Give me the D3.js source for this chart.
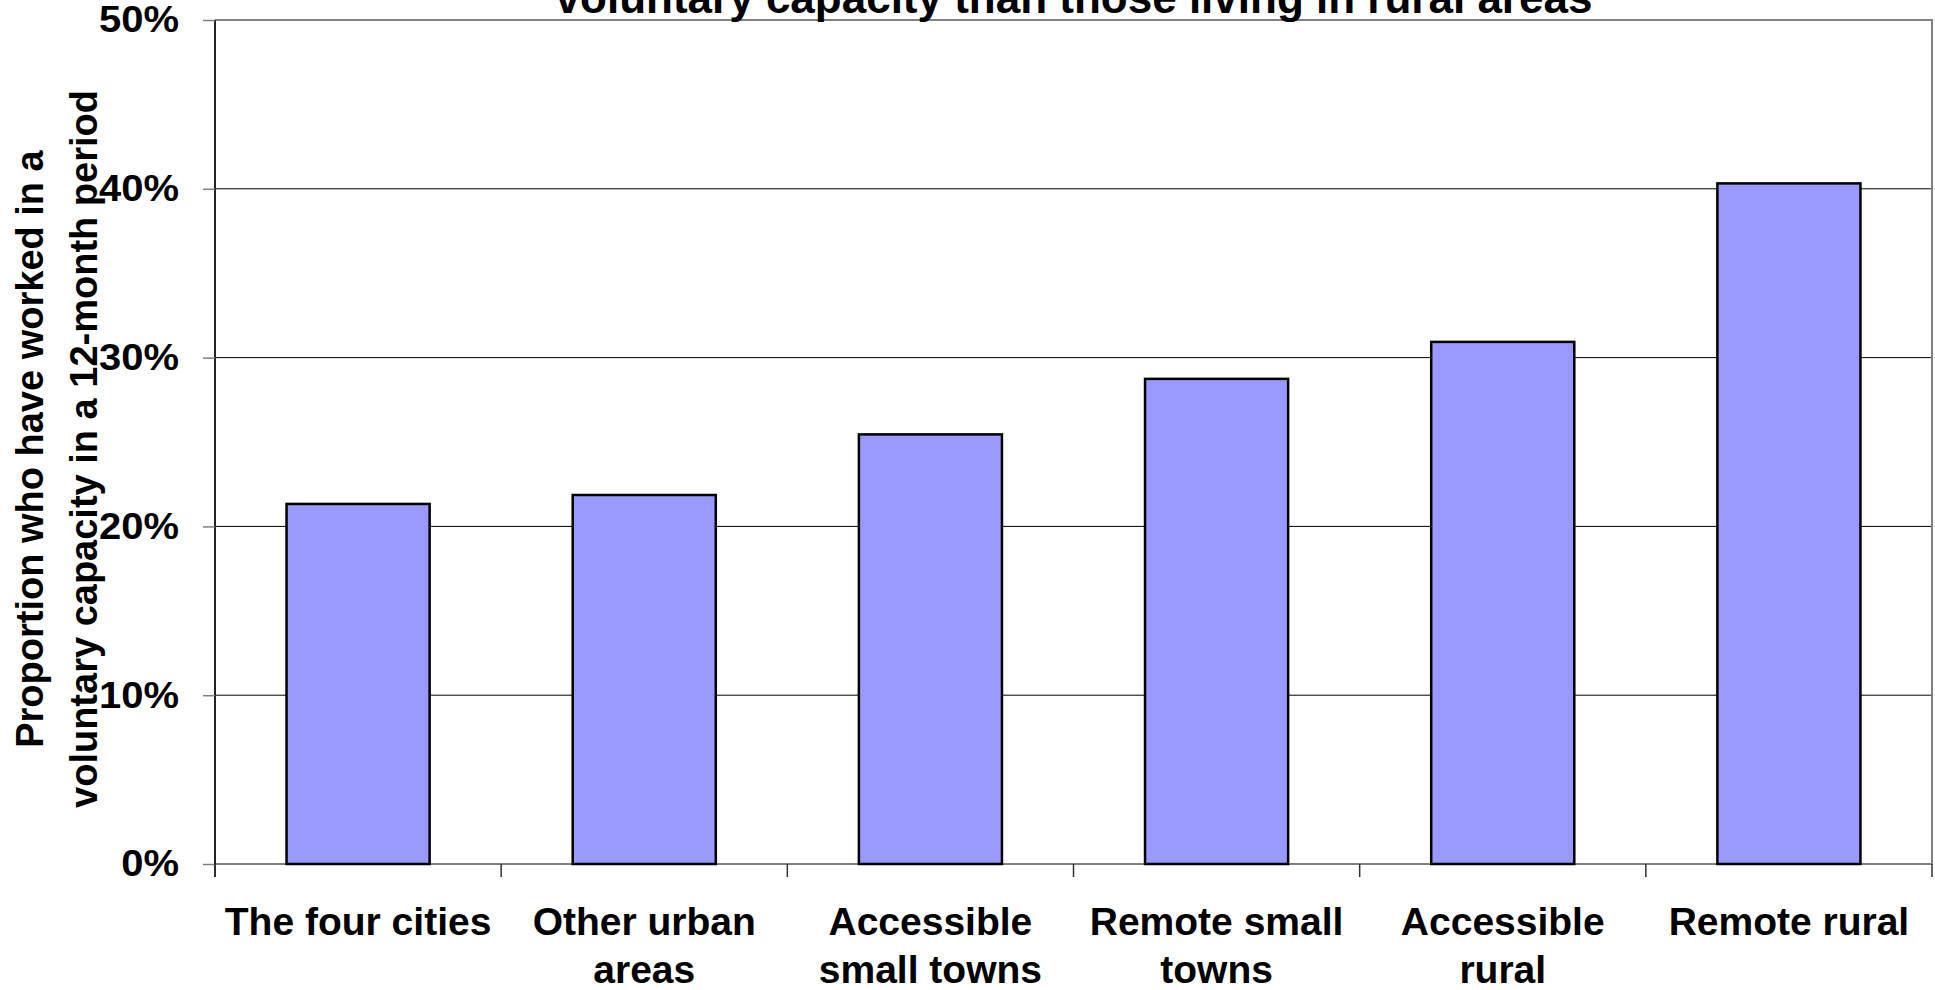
<!DOCTYPE html>
<meta charset="utf-8">
<title>Voluntary work by area</title>
<style>
  body { margin: 0; background: #fff; }
  text { font-family: "Liberation Sans", Arial, sans-serif; font-weight: bold; fill: #000; }
  .grid line { stroke: #000; stroke-width: 1px; }
  .bar { fill: #9999FF; stroke: #000; stroke-width: 2.5px; }
  .frame { fill: none; stroke: #808080; stroke-width: 2px; }
</style>
<body>
<script src="https://d3js.org/d3.v7.min.js"></script>
<script>
  var categories = [
    ["The four cities"],
    ["Other urban", "areas"],
    ["Accessible", "small towns"],
    ["Remote small", "towns"],
    ["Accessible", "rural"],
    ["Remote rural"]
  ];
  var values = [0.2133, 0.2186, 0.2545, 0.2874, 0.3093, 0.4032];
  var yTicks = [0, 0.1, 0.2, 0.3, 0.4, 0.5];
  var titleText = "voluntary capacity than those living in rural areas";
  var yLabel = ["Proportion who have worked in a", "voluntary capacity in a 12-month period"];

  var width = 1935,
    height = 990;
  var margin = { top: 20, right: 3, bottom: 126, left: 215 };
  var plotW = width - margin.left - margin.right,
    plotH = height - margin.top - margin.bottom;

  var svg = d3.select("body").append("svg")
    .attr("width", width)
    .attr("height", height);

  var g = svg.append("g")
    .attr("transform", "translate(" + margin.left + "," + margin.top + ")");

  var x = d3.scaleBand()
    .domain(d3.range(categories.length))
    .range([0, plotW])
    .paddingInner(0.5)
    .paddingOuter(0.25);

  var y = d3.scaleLinear()
    .domain([0, 0.5])
    .range([plotH, 0]);

  // gridlines
  g.append("g").attr("class", "grid")
    .selectAll("line")
    .data(yTicks.slice(1, -1))
    .enter().append("line")
    .attr("x1", 0)
    .attr("x2", plotW)
    .attr("y1", d => y(d))
    .attr("y2", d => y(d));

  // plot border (top, right, bottom)
  g.append("path")
    .attr("class", "frame")
    .attr("d", "M0,0H" + plotW + "V" + plotH + "H0");

  // bars
  g.selectAll(".bar")
    .data(values)
    .enter().append("rect")
    .attr("class", "bar")
    .attr("x", (d, i) => x(i))
    .attr("width", x.bandwidth())
    .attr("y", d => y(d))
    .attr("height", d => plotH - y(d));

  // y axis
  var yAxis = g.append("g")
    .call(d3.axisLeft(y).tickValues(yTicks).tickFormat(d3.format(".0%")).tickSize(12).tickPadding(24));
  yAxis.select(".domain").attr("stroke", "#222").attr("stroke-width", 2).attr("d", "M0,0V" + (plotH + 13));
  yAxis.selectAll(".tick line").attr("stroke", "#808080").attr("stroke-width", 1.5);
  yAxis.selectAll(".tick text")
    .attr("font-size", 37)
    .attr("font-family", "Liberation Sans, Arial, sans-serif")
    .attr("font-weight", "bold")
    .attr("fill", "#000")
    .attr("lengthAdjust", "spacingAndGlyphs")
    .attr("textLength", function() { return this.getComputedTextLength() * 1.08; });

  // x axis ticks at band edges
  var step = x.step();
  var edges = d3.range(categories.length + 1).map(i => i * step);
  g.append("g").selectAll("line")
    .data(edges)
    .enter().append("line")
    .attr("x1", d => d).attr("x2", d => d)
    .attr("y1", plotH).attr("y2", plotH + 13)
    .attr("stroke", "#333")
    .attr("stroke-width", 1.5);

  // x labels
  var xl = g.append("g").selectAll("text")
    .data(categories)
    .enter().append("text")
    .attr("text-anchor", "middle")
    .attr("font-size", 39)
    .attr("x", (d, i) => x(i) + x.bandwidth() / 2)
    .attr("y", plotH + 71);
  xl.selectAll("tspan")
    .data(d => d)
    .enter().append("tspan")
    .attr("x", function() { return d3.select(this.parentNode).attr("x"); })
    .attr("dy", (d, i) => i === 0 ? 0 : 48)
    .text(d => d);

  // y label
  var yl = svg.append("text")
    .attr("text-anchor", "middle")
    .attr("font-size", 38)
    .attr("transform", "translate(43,449) rotate(-90)");
  yl.selectAll("tspan")
    .data(yLabel)
    .enter().append("tspan")
    .attr("x", 0)
    .attr("dy", (d, i) => i === 0 ? 0 : 54)
    .text(d => d);

  // title (only the last line is visible)
  svg.append("text")
    .attr("text-anchor", "middle")
    .attr("font-size", 44)
    .attr("x", 1074)
    .attr("y", 13)
    .text(titleText);
</script>
</body>
</html>
